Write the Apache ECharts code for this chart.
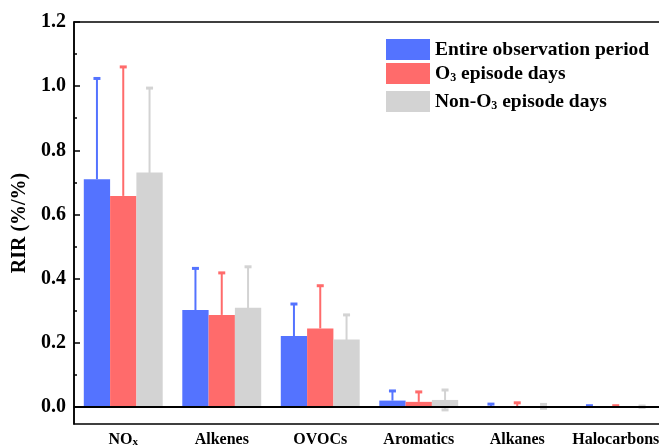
<!DOCTYPE html>
<html><head><meta charset="utf-8">
<script src="https://cdn.jsdelivr.net/npm/echarts@6/dist/echarts.min.js"></script>
<style>html,body{margin:0;padding:0;background:#fff}#c{width:659px;height:448px}</style>
</head><body><div id="c"></div>
<script>
var categories = ['NOx', 'Alkenes', 'OVOCs', 'Aromatics', 'Alkanes', 'Halocarbons'];
var seriesNames = ['Entire observation period', 'O3 episode days', 'Non-O3 episode days'];
var entire    = [0.710, 0.302, 0.221, 0.020, 0.003, 0.001];
var entireErr = [0.314, 0.130, 0.100, 0.030, 0.006, 0.003];
var o3        = [0.658, 0.287, 0.245, 0.016, 0.003, 0.001];
var o3Err     = [0.402, 0.131, 0.133, 0.031, 0.010, 0.003];
var nonO3     = [0.731, 0.309, 0.210, 0.022, 0.002, 0.001];
var nonO3Err  = [0.263, 0.128, 0.077, 0.031, 0.006, 0.002];
var majorTicks = [0, 0.2, 0.4, 0.6, 0.8, 1.0, 1.2];
var minorTicks = [0.1, 0.3, 0.5, 0.7, 0.9, 1.1];

var colors = ['#5473FF', '#FF6B6B', '#D3D3D3'];
var FONT = 'Liberation Serif';
var BARW = 0.267;
var values = [entire, o3, nonO3];
var errs = [entireErr, o3Err, nonO3Err];
var symmetric = [false, false, true];

function richName(n) {
  return n.replace('O3', 'O{sub|3}').replace('NOx', 'NO{sub|x}');
}
var legendRich = {
  sub: {fontFamily: FONT, fontWeight: 'bold', fontSize: 12, lineHeight: 12, verticalAlign: 'bottom', color: '#000'}
};

var series = [];
values.forEach(function (vals, k) {
  series.push({
    name: seriesNames[k], type: 'bar', data: vals, barWidth: (BARW * 100) + '%', barGap: '0%',
    itemStyle: {color: colors[k]}, z: 3,
    markLine: k === 0 ? {silent: true, symbol: 'none', label: {show: false}, z: 10,
      lineStyle: {color: '#000', width: 2, type: 'solid'}, data: [{yAxis: 0}]} : undefined
  });
});
values.forEach(function (vals, k) {
  series.push({
    type: 'custom', z: 2, silent: true,
    data: vals.map(function (v, i) { return [i, v, errs[k][i]]; }),
    renderItem: function (params, api) {
      var i = api.value(0), v = api.value(1), e = api.value(2);
      var band = api.size([1, 0])[0];
      var off = (k - 1) * band * BARW;
      var top = api.coord([i, v + e]);
      var bot = api.coord([i, symmetric[k] ? v - e : v]);
      var x = top[0] + off;
      var st = {stroke: colors[k], lineWidth: 2};
      var children = [
        {type: 'line', shape: {x1: x, y1: top[1], x2: x, y2: bot[1]}, style: st},
        {type: 'line', shape: {x1: x - 3.5, y1: top[1], x2: x + 3.5, y2: top[1]}, style: {stroke: colors[k], lineWidth: 3}}
      ];
      if (symmetric[k]) children.push({type: 'line', shape: {x1: x - 3.5, y1: bot[1], x2: x + 3.5, y2: bot[1]}, style: {stroke: colors[k], lineWidth: 3}});
      return {type: 'group', children: children};
    }
  });
});

var legends = [39, 63, 91].map(function (t, k) {
  return {
    data: [seriesNames[k]], left: 386, top: t, itemWidth: 44, itemHeight: 21, icon: 'rect',
    selectedMode: false, padding: 0,
    formatter: function (n) { return richName(n); },
    textStyle: {fontFamily: FONT, fontWeight: 'bold', fontSize: 19.5, color: '#000', rich: legendRich}
  };
});

var chart = echarts.init(document.getElementById('c'), null, {renderer: 'canvas'});
chart.setOption({
  animation: false,
  backgroundColor: '#fff',
  legend: legends,
  grid: {left: 74, width: 591, top: 22, height: 402, show: true, borderColor: '#000', borderWidth: 1.5,
    containLabel: false, outerBoundsMode: 'none'},
  xAxis: {
    type: 'category', data: categories,
    axisLine: {lineStyle: {color: '#000', width: 1.5}},
    axisTick: {inside: true, alignWithLabel: true, length: 6, lineStyle: {color: '#000', width: 1.5}},
    axisLabel: {margin: 8, interval: 0, hideOverlap: false, fontFamily: FONT, fontWeight: 'bold', fontSize: 16, color: '#000',
      formatter: function (v) { return richName(v); },
      rich: {sub: {fontFamily: FONT, fontWeight: 'bold', fontSize: 11, lineHeight: 11, verticalAlign: 'bottom', color: '#000'}}}
  },
  yAxis: [{
    type: 'value', min: -0.053, max: 1.2,
    name: 'RIR (%/%)', nameLocation: 'middle', nameGap: 35,
    nameTextStyle: {fontFamily: FONT, fontWeight: 'bold', fontSize: 20, color: '#000'},
    axisLine: {show: true, lineStyle: {color: '#000', width: 1.5}},
    axisTick: {show: true, inside: true, length: 6, customValues: majorTicks, lineStyle: {color: '#000', width: 1.5}},
    axisLabel: {margin: 8, customValues: majorTicks, fontFamily: FONT, fontWeight: 'bold', fontSize: 20, color: '#000',
      formatter: function (v) { return v.toFixed(1); }},
    splitLine: {show: false}
  }, {
    type: 'value', min: -0.053, max: 1.2, position: 'left',
    axisLine: {show: false},
    axisTick: {show: true, inside: true, length: 3, customValues: minorTicks, lineStyle: {color: '#000', width: 1.5}},
    axisLabel: {show: false}, splitLine: {show: false}
  }],
  series: series
});
</script></body></html>
